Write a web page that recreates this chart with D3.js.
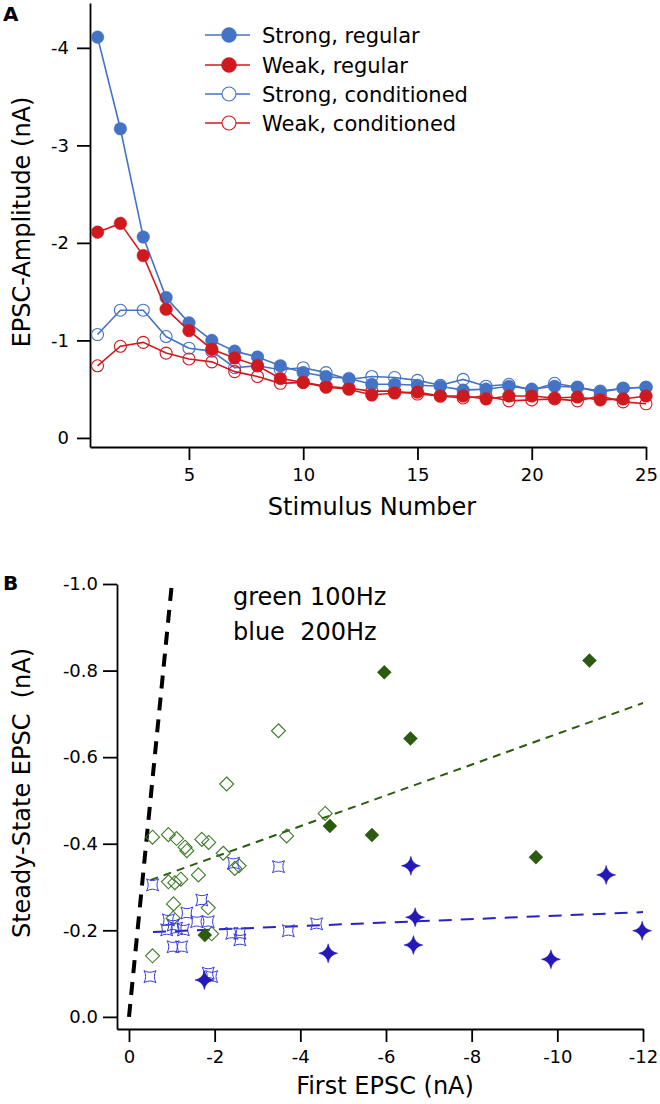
<!DOCTYPE html>
<html><head><meta charset="utf-8">
<script src="https://cdn.jsdelivr.net/npm/d3@7"></script>
<style>
body{margin:0;background:#fff}
svg{display:block}
text{font-family:"DejaVu Sans",sans-serif;fill:#000}
</style>
</head><body>
<svg id="chart" width="660" height="1104"></svg>
<script>
// ---------- Panel A data ----------
const stimulus = [1,2,3,4,5,6,7,8,9,10,11,12,13,14,15,16,17,18,19,20,21,22,23,24,25];
const strongRegular = [-4.11,-3.17,-2.06,-1.44,-1.18,-1.00,-0.89,-0.83,-0.74,-0.67,-0.63,-0.61,-0.55,-0.55,-0.54,-0.53,-0.49,-0.50,-0.53,-0.50,-0.53,-0.52,-0.47,-0.51,-0.52];
const weakRegular = [-2.11,-2.20,-1.87,-1.32,-1.10,-0.91,-0.82,-0.74,-0.61,-0.57,-0.52,-0.50,-0.44,-0.46,-0.47,-0.43,-0.43,-0.40,-0.43,-0.43,-0.41,-0.42,-0.39,-0.40,-0.43];
const strongConditioned = [-1.06,-1.31,-1.31,-1.04,-0.92,-0.89,-0.72,-0.74,-0.70,-0.72,-0.67,-0.60,-0.63,-0.62,-0.59,-0.54,-0.60,-0.53,-0.55,-0.49,-0.56,-0.52,-0.48,-0.51,-0.52];
const weakConditioned = [-0.74,-0.94,-0.98,-0.87,-0.81,-0.78,-0.68,-0.63,-0.56,-0.57,-0.53,-0.51,-0.48,-0.48,-0.45,-0.43,-0.41,-0.43,-0.38,-0.39,-0.40,-0.38,-0.43,-0.37,-0.35];
const legendLabels = ["Strong, regular","Weak, regular","Strong, conditioned","Weak, conditioned"];
const ticksAx = [5,10,15,20,25];
const ticksAy = [-4,-3,-2,-1,0];

// ---------- Panel B data ([first EPSC, steady-state EPSC] in nA) ----------
const green100Open = [[-0.55,-0.415],[-0.92,-0.421],[-1.11,-0.412],[-1.31,-0.392],[-1.35,-0.384],[-1.70,-0.410],[-1.86,-0.403],[-2.20,-0.378],[-2.47,-0.343],[-2.57,-0.349],[-0.92,-0.312],[-1.07,-0.310],[-1.21,-0.318],[-1.62,-0.328],[-1.04,-0.261],[-1.85,-0.252],[-1.03,-0.228],[-1.93,-0.192],[-0.55,-0.141],[-2.28,-0.538],[-3.49,-0.661],[-4.58,-0.470],[-3.68,-0.418]];
const green100Filled = [[-5.96,-0.796],[-10.75,-0.823],[-6.57,-0.643],[-5.67,-0.420],[-9.50,-0.369],[-4.69,-0.441],[-1.77,-0.189]];
const blue200Open = [[-0.55,-0.305],[-0.92,-0.224],[-0.88,-0.201],[-1.11,-0.205],[-1.03,-0.212],[-1.27,-0.201],[-1.35,-0.240],[-1.58,-0.220],[-1.85,-0.220],[-1.70,-0.270],[-1.03,-0.162],[-1.23,-0.162],[-0.49,-0.093],[-1.85,-0.101],[-1.93,-0.093],[-2.40,-0.193],[-2.59,-0.193],[-2.59,-0.178],[-2.44,-0.355],[-3.49,-0.347],[-3.72,-0.199],[-4.38,-0.215]];
const blue200Filled = [[-6.58,-0.349],[-11.14,-0.328],[-6.68,-0.230],[-6.64,-0.166],[-9.85,-0.133],[-11.98,-0.199],[-4.65,-0.147],[-1.76,-0.085]];
const identityLine = [[0,0],[-1.0,-1.0]];
const greenFit = [[-0.50,-0.316],[-12,-0.725]];
const blueFit = [[-0.56,-0.196],[-12,-0.242]];
const ticksBx = [0,-2,-4,-6,-8,-10,-12];
const ticksBy = [-1.0,-0.8,-0.6,-0.4,-0.2,0.0];

const BLUE = "#4472c4", RED = "#d0191e";
const GREEN_F = "#2c5a10", GREEN_O = "#3f7a2a", BLUE_F = "#2418b8", BLUE_O = "#3a3ae0", BLUE_L = "#2a20c8";

const svg = d3.select("#chart");

// ---------- custom symbols ----------
const symDiamond = {draw(ctx, size){const r=Math.sqrt(size);ctx.moveTo(0,-r);ctx.lineTo(r,0);ctx.lineTo(0,r);ctx.lineTo(-r,0);ctx.closePath();}};
const symStar = {draw(ctx, size){const r=Math.sqrt(size),k=0.16*r;ctx.moveTo(0,-r);ctx.quadraticCurveTo(k,-k,r,0);ctx.quadraticCurveTo(k,k,0,r);ctx.quadraticCurveTo(-k,k,-r,0);ctx.quadraticCurveTo(-k,-k,0,-r);ctx.closePath();}};
const symConcave = {draw(ctx, size){const s=Math.sqrt(size),c=0.45*s;ctx.moveTo(-s,-s);ctx.quadraticCurveTo(0,-c,s,-s);ctx.quadraticCurveTo(c,0,s,s);ctx.quadraticCurveTo(0,c,-s,s);ctx.quadraticCurveTo(-c,0,-s,-s);ctx.closePath();}};

// ================= Panel A =================
const xA = d3.scaleLinear().domain([0.67,25]).range([90,646]);
const yA = d3.scaleLinear().domain([0.093,-4.46]).range([447,3]);

const gA = svg.append("g");
const axAx = gA.append("g").attr("transform","translate(0,447)")
  .call(d3.axisBottom(xA).tickValues(ticksAx).tickSize(13).tickPadding(8).tickSizeOuter(0).tickFormat(d3.format("d")));
const axAy = gA.append("g").attr("transform","translate(90,0)")
  .call(d3.axisLeft(yA).tickValues(ticksAy).tickSize(13).tickPadding(8).tickSizeOuter(0).tickFormat(d=>d===0?"0":String(d).replace("\u2212","-")));
[axAx,axAy].forEach(a=>{
  a.select(".domain").attr("stroke","#000").attr("stroke-width",1.8);
  a.selectAll(".tick line").attr("stroke","#000").attr("stroke-width",1.8);
  a.selectAll(".tick text").style("font-size","18px").style("font-family","DejaVu Sans").attr("fill","#000");
});
axAx.selectAll(".tick text").attr("dy","0.71em");

const seriesA = [
  {vals: strongConditioned, color: BLUE, filled:false},
  {vals: weakConditioned, color: RED, filled:false},
  {vals: strongRegular, color: BLUE, filled:true},
  {vals: weakRegular, color: RED, filled:true}
];
const lineA = d3.line().x((d,i)=>xA(stimulus[i])).y(d=>yA(d));
seriesA.forEach(s=>{
  gA.append("path").datum(s.vals).attr("d",lineA).attr("fill","none").attr("stroke",s.color).attr("stroke-width",1.6);
  gA.selectAll(null).data(s.vals).enter().append("circle")
    .attr("cx",(d,i)=>xA(stimulus[i])).attr("cy",d=>yA(d))
    .attr("r", s.filled?6.3:6)
    .attr("fill", s.filled?s.color:"none")
    .attr("stroke", s.color).attr("stroke-width", s.filled?0.5:1.1);
});

// legend
const legendStyles = [{color:BLUE,filled:true},{color:RED,filled:true},{color:BLUE,filled:false},{color:RED,filled:false}];
const legRows = [35,65,94,123];
legendLabels.forEach((lab,i)=>{
  const st = legendStyles[i], y = legRows[i];
  gA.append("line").attr("x1",205).attr("x2",250).attr("y1",y).attr("y2",y).attr("stroke",st.color).attr("stroke-width",1.6);
  gA.append("circle").attr("cx",229).attr("cy",y).attr("r",st.filled?7.5:7)
    .attr("fill",st.filled?st.color:"#fff").attr("stroke",st.color).attr("stroke-width",st.filled?0.5:1.1);
  gA.append("text").attr("x",262).attr("y",y+7.5).style("font-size","21px").text(lab);
});

gA.append("text").attr("x",3).attr("y",21).style("font-size","20px").style("font-weight","bold").text("A");
gA.append("text").attr("transform","translate(30,222) rotate(-90)").attr("text-anchor","middle").style("font-size","24px").text("EPSC-Amplitude (nA)");
gA.append("text").attr("x",372).attr("y",515).attr("text-anchor","middle").style("font-size","24px").text("Stimulus Number");

// ================= Panel B =================
const xB = d3.scaleLinear().domain([0.28,-12]).range([117,643]);
const yB = d3.scaleLinear().domain([0.028,-1.0]).range([1029,584]);
const gB = svg.append("g");

const axBx = gB.append("g").attr("transform","translate(0,1029)")
  .call(d3.axisBottom(xB).tickValues(ticksBx).tickSize(13).tickPadding(8).tickSizeOuter(0).tickFormat(d=>d===0?"0":String(d)));
const axBy = gB.append("g").attr("transform","translate(117,0)")
  .call(d3.axisLeft(yB).tickValues(ticksBy).tickSize(14).tickPadding(5).tickSizeOuter(0).tickFormat(d=>d===0?"0.0":d.toFixed(1)));
[axBx,axBy].forEach(a=>{
  a.select(".domain").attr("stroke","#000").attr("stroke-width",1.8);
  a.selectAll(".tick line").attr("stroke","#000").attr("stroke-width",1.8);
  a.selectAll(".tick text").style("font-size","18px").style("font-family","DejaVu Sans").attr("fill","#000");
});
axBx.selectAll(".tick text").attr("dy","0.71em");

const lineB = d3.line().x(d=>xB(d[0])).y(d=>yB(d[1]));
gB.append("path").datum(identityLine).attr("d",lineB).attr("fill","none").attr("stroke","#000").attr("stroke-width",4).attr("stroke-dasharray","13,9");
gB.append("path").datum(greenFit).attr("d",lineB).attr("fill","none").attr("stroke",GREEN_F).attr("stroke-width",2).attr("stroke-dasharray","8,6");
gB.append("path").datum(blueFit).attr("d",lineB).attr("fill","none").attr("stroke",BLUE_L).attr("stroke-width",2).attr("stroke-dasharray","13,9");

function drawPts(data, type, size, fill, stroke, sw){
  gB.selectAll(null).data(data).enter().append("path")
    .attr("transform",d=>`translate(${xB(d[0])},${yB(d[1])})`)
    .attr("d", d3.symbol().type(type).size(size*size))
    .attr("fill",fill).attr("stroke",stroke).attr("stroke-width",sw);
}
drawPts(green100Open, symDiamond, 7, "none", GREEN_O, 1.1);
drawPts(blue200Open, symConcave, 6, "none", BLUE_O, 1.0);
drawPts(green100Filled, symDiamond, 7, GREEN_F, GREEN_F, 0.5);
drawPts(blue200Filled, symStar, 9.5, BLUE_F, BLUE_F, 0.5);

gB.append("text").attr("x",233).attr("y",605).style("font-size","24px").text("green 100Hz");
gB.append("text").attr("x",233).attr("y",640).style("font-size","24px").text("blue  200Hz").attr("xml:space","preserve").style("white-space","pre");
gB.append("text").attr("x",3).attr("y",590).style("font-size","20px").style("font-weight","bold").text("B");
gB.append("text").attr("transform","translate(30,793) rotate(-90)").attr("text-anchor","middle").style("font-size","24px").style("white-space","pre").text("Steady-State EPSC  (nA)");
gB.append("text").attr("x",385).attr("y",1094).attr("text-anchor","middle").style("font-size","24px").text("First EPSC (nA)");
</script>
</body></html>
